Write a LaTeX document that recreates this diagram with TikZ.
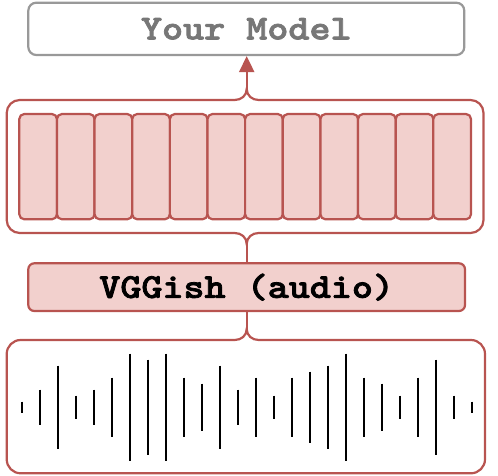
\documentclass[tikz,border=0pt]{standalone}
\usepackage{fontspec}
\newfontfamily\courb{lmmonolt10-bold.otf}[FakeStretch=1.15, FakeBold=2.2]
\usetikzlibrary{arrows.meta}
\definecolor{redstroke}{HTML}{B85450}
\definecolor{redfill}{HTML}{F2D0CD}
\definecolor{graystroke}{HTML}{999999}
\definecolor{graytext}{HTML}{777777}
\tikzset{
  boxtext/.style={font=\fontsize{35}{35}\selectfont\courb},
  modelbox/.style={draw=graystroke, line width=2.2bp, rounded corners=8bp, inner sep=0pt,
    minimum width=436bp, minimum height=52.3bp, text=graytext, boxtext},
  vggbox/.style={draw=redstroke, fill=redfill, line width=2.2bp, rounded corners=6bp, inner sep=0pt,
    minimum width=436.7bp, minimum height=47.7bp, text=black, boxtext},
  cellbox/.style={draw=redstroke, fill=redfill, line width=2.2bp, rounded corners=5bp, inner sep=0pt,
    minimum width=37.64bp, minimum height=105.3bp},
  bracebox/.style={draw=redstroke, line width=2.2bp},
  stem/.style={draw=redstroke, line width=2.2bp},
  wave/.style={draw=black, line width=2bp},
}
\begin{document}
\begin{tikzpicture}[x=1bp, y=-1bp]
\useasboundingbox (0,0) rectangle (498,476);

% middle container with braces
\draw[bracebox] (6.7,113) .. controls (6.7,105.8) and (12.5,100) .. (19.7,100)
  -- (234.7,100) .. controls (241.3,100) and (246.7,95.6) .. (246.7,89) coordinate (midtop)
  .. controls (246.7,95.6) and (252.1,100) .. (258.7,100)
  -- (470.5,100) .. controls (477.7,100) and (483.5,105.8) .. (483.5,113)
  -- (483.5,220) .. controls (483.5,227.2) and (477.7,233) .. (470.5,233)
  -- (258.7,233) .. controls (252.1,233) and (246.7,237.4) .. (246.7,244) coordinate (midbot)
  .. controls (246.7,237.4) and (241.3,233) .. (234.7,233)
  -- (19.7,233) .. controls (12.5,233) and (6.7,227.2) .. (6.7,220) -- cycle;

% cells
\foreach \k in {0,...,11}
  \node[cellbox] (cell-\k) at ({19.3+37.64*\k+18.82}, 166.65) {};

% bottom container with brace
\draw[bracebox] (6.7,354) .. controls (6.7,346.3) and (12.9,340) .. (20.7,340)
  -- (234.7,340) .. controls (241.3,340) and (246.7,335.6) .. (246.7,329) coordinate (bottop)
  .. controls (246.7,335.6) and (252.1,340) .. (258.7,340)
  -- (471,340) .. controls (478.7,340) and (485,346.3) .. (485,354)
  -- (485,459.3) .. controls (485,467) and (478.7,473.3) .. (471,473.3)
  -- (20.7,473.3) .. controls (12.9,473.3) and (6.7,467) .. (6.7,459.3) -- cycle;

% boxes
\node[modelbox] (model) at (246.3,28.85) {Your Model};
\node[vggbox] (vgg) at (246.65,287.15) {VGGish (audio)};

% connectors
\draw[stem, -{Triangle[width=15bp,length=16bp]}] (midtop) -- (midtop |- model.south);
\draw[stem] (midbot) -- (midbot |- vgg.north);
\draw[stem] (vgg.south -| bottop) -- (bottop);

% waveform
\foreach \h [count=\i from 0] in {1,3,7,2,3,5,9,8,9,5,4,7,3,5,2,5,6,7,9,5,4,2,5,8,2,1}
  \draw[wave] ({21.7+18*\i},{407.5-6*\h+0.2}) -- ({21.7+18*\i},{407.5+6*\h-0.2});
\end{tikzpicture}
\end{document}
